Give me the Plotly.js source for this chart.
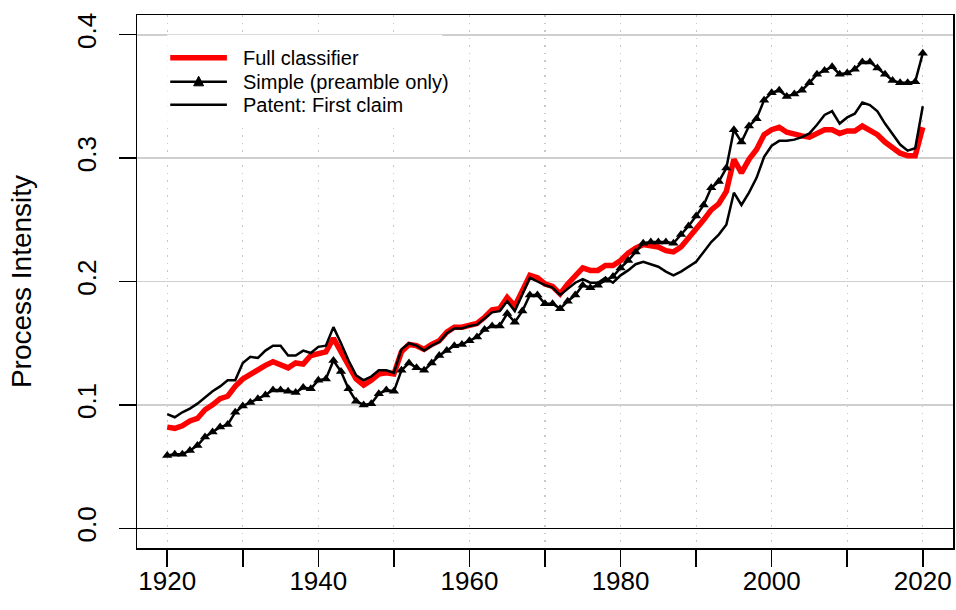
<!DOCTYPE html>
<html><head><meta charset="utf-8">
<script src="https://cdn.plot.ly/plotly-3.0.1.min.js"></script>
<style>html,body{margin:0;padding:0;background:#fff}#chart{width:956px;height:610px}</style>
</head><body><div id="chart"></div>
<script>
const years = [1920,1921,1922,1923,1924,1925,1926,1927,1928,1929,
  1930,1931,1932,1933,1934,1935,1936,1937,1938,1939,
  1940,1941,1942,1943,1944,1945,1946,1947,1948,1949,
  1950,1951,1952,1953,1954,1955,1956,1957,1958,1959,
  1960,1961,1962,1963,1964,1965,1966,1967,1968,1969,
  1970,1971,1972,1973,1974,1975,1976,1977,1978,1979,
  1980,1981,1982,1983,1984,1985,1986,1987,1988,1989,
  1990,1991,1992,1993,1994,1995,1996,1997,1998,1999,
  2000,2001,2002,2003,2004,2005,2006,2007,2008,2009,
  2010,2011,2012,2013,2014,2015,2016,2017,2018,2019,2020];

const fullClassifier = [0.082,0.081,0.083,0.087,0.089,0.096,0.100,0.105,0.107,0.115,
  0.121,0.125,0.128,0.132,0.135,0.132,0.130,0.134,0.133,0.140,
  0.142,0.143,0.154,0.144,0.132,0.121,0.116,0.120,0.125,0.126,
  0.125,0.143,0.149,0.148,0.145,0.149,0.152,0.159,0.163,0.163,
  0.165,0.166,0.171,0.177,0.178,0.187,0.180,0.192,0.205,0.203,
  0.198,0.196,0.190,0.198,0.205,0.211,0.209,0.209,0.213,0.213,
  0.217,0.223,0.227,0.230,0.229,0.228,0.225,0.224,0.228,0.235,
  0.242,0.250,0.258,0.263,0.273,0.299,0.288,0.299,0.307,0.319,
  0.323,0.325,0.321,0.319,0.318,0.317,0.320,0.323,0.323,0.320,
  0.322,0.322,0.326,0.323,0.319,0.313,0.308,0.304,0.302,0.302,0.325];

const simplePreamble = [0.059,0.060,0.060,0.063,0.067,0.074,0.078,0.082,0.084,0.094,
  0.099,0.102,0.105,0.108,0.112,0.112,0.111,0.110,0.114,0.113,
  0.120,0.121,0.136,0.127,0.113,0.103,0.100,0.101,0.109,0.112,
  0.111,0.128,0.134,0.130,0.128,0.134,0.140,0.144,0.148,0.149,
  0.152,0.155,0.161,0.164,0.164,0.174,0.167,0.176,0.189,0.189,
  0.182,0.182,0.178,0.184,0.189,0.197,0.195,0.197,0.201,0.204,
  0.211,0.217,0.224,0.231,0.232,0.232,0.232,0.231,0.238,0.245,
  0.253,0.262,0.276,0.281,0.292,0.323,0.313,0.326,0.332,0.347,
  0.353,0.355,0.350,0.352,0.355,0.361,0.368,0.371,0.374,0.368,
  0.369,0.372,0.378,0.378,0.373,0.368,0.363,0.361,0.361,0.362,0.385];

const patentFirstClaim = [0.0925,0.090,0.094,0.097,0.101,0.106,0.111,0.115,0.120,0.120,
  0.134,0.139,0.138,0.144,0.148,0.148,0.140,0.140,0.144,0.142,
  0.147,0.148,0.163,0.150,0.136,0.124,0.120,0.123,0.128,0.128,
  0.126,0.145,0.150,0.148,0.144,0.148,0.151,0.158,0.162,0.162,
  0.164,0.165,0.170,0.175,0.176,0.184,0.176,0.189,0.203,0.200,
  0.197,0.195,0.189,0.194,0.199,0.202,0.199,0.199,0.203,0.199,
  0.205,0.209,0.214,0.216,0.214,0.212,0.208,0.205,0.208,0.212,
  0.216,0.224,0.232,0.238,0.246,0.272,0.262,0.272,0.284,0.301,
  0.310,0.314,0.314,0.315,0.317,0.320,0.327,0.335,0.338,0.328,
  0.333,0.336,0.345,0.343,0.338,0.328,0.319,0.311,0.306,0.308,0.342];

const seriesNames = ['Full classifier', 'Simple (preamble only)', 'Patent: First claim'];
const xTickVals = [1920,1930,1940,1950,1960,1970,1980,1990,2000,2010,2020];
const xTickText = ['1920','','1940','','1960','','1980','','2000','','2020'];
const yTickVals = [0,0.1,0.2,0.3,0.4];
const yTickText = ['0.0','0.1','0.2','0.3','0.4'];
const yTitle = 'Process Intensity';

const FONT = 'Liberation Sans, Arial, Helvetica, sans-serif';

const traces = [
  {x: years, y: fullClassifier, name: seriesNames[0], type: 'scatter', mode: 'lines',
   line: {color: '#ff0000', width: 5.5}},
  {x: years, y: simplePreamble, name: seriesNames[1], type: 'scatter', mode: 'lines+markers',
   line: {color: '#000000', width: 2.5},
   marker: {symbol: 'triangle-up', size: 9, color: '#000000'}},
  {x: years, y: patentFirstClaim, name: seriesNames[2], type: 'scatter', mode: 'lines',
   line: {color: '#000000', width: 2.5}}
];

// legend (drawn manually, R-style, top-left corner at (1920, 0.4))
const legRows = [0.3813, 0.3619, 0.3432];
const legX0 = 1920.4, legX1 = 1927.9, legTextX = 1929.8;
const shapes = [
  {type: 'rect', xref: 'x', yref: 'y', x0: 1920, x1: 1956.4, y0: 0.326, y1: 0.4,
   fillcolor: '#ffffff', line: {width: 0}, layer: 'between'},
  {type: 'line', xref: 'x', yref: 'y', x0: legX0, x1: legX1, y0: legRows[0], y1: legRows[0],
   line: {color: '#ff0000', width: 5.5}},
  {type: 'line', xref: 'x', yref: 'y', x0: legX0, x1: legX1, y0: legRows[1], y1: legRows[1],
   line: {color: '#000000', width: 2.5}},
  {type: 'path', xref: 'x', yref: 'y',
   path: 'M1923.5,' + (legRows[1]-0.0033) + ' L1924.82,' + (legRows[1]-0.0033) + ' L1924.16,' + (legRows[1]+0.0045) + ' Z',
   fillcolor: '#000000', line: {color: '#000000', width: 1}},
  {type: 'line', xref: 'x', yref: 'y', x0: legX0, x1: legX1, y0: legRows[2], y1: legRows[2],
   line: {color: '#000000', width: 2.5}}
];
const annotations = seriesNames.map((t, i) => ({
  text: t, x: legTextX, y: legRows[i], xref: 'x', yref: 'y', xanchor: 'left', yanchor: 'middle',
  showarrow: false, font: {family: FONT, size: 20, color: '#000000'}
}));

const layout = {
  width: 956, height: 610,
  margin: {l: 137, r: 3, t: 15, b: 62, pad: 0},
  paper_bgcolor: '#ffffff', plot_bgcolor: '#ffffff',
  showlegend: false,
  font: {family: FONT, color: '#000000'},
  xaxis: {
    range: [1916, 2024], tickmode: 'array', tickvals: xTickVals, ticktext: xTickText,
    ticks: 'outside', ticklen: 17, tickwidth: 1.5, tickcolor: '#000000',
    showline: true, linecolor: '#000000', linewidth: 1.5, mirror: true,
    showgrid: true, gridcolor: '#c8c8c8', gridwidth: 1.2, griddash: '1.5px,6px',
    zeroline: false, tickfont: {family: FONT, size: 26, color: '#000000'},
    ticklabelstandoff: -8
  },
  yaxis: {
    range: [-0.016, 0.416], tickmode: 'array', tickvals: yTickVals, ticktext: yTickText,
    ticks: 'outside', ticklen: 17, tickwidth: 1.5, tickcolor: '#000000', tickangle: -90,
    showline: true, linecolor: '#000000', linewidth: 1.5, mirror: true,
    showgrid: true, gridcolor: '#cfcfcf', gridwidth: 1.8,
    zeroline: true, zerolinecolor: '#000000', zerolinewidth: 1.5,
    tickfont: {family: FONT, size: 26, color: '#000000'},
    ticklabelstandoff: 12,
    title: {text: yTitle, font: {family: FONT, size: 28, color: '#000000'}, standoff: 32}
  },
  shapes: shapes,
  annotations: annotations
};

Plotly.newPlot('chart', traces, layout, {staticPlot: true, displayModeBar: false});
</script>
</body></html>
